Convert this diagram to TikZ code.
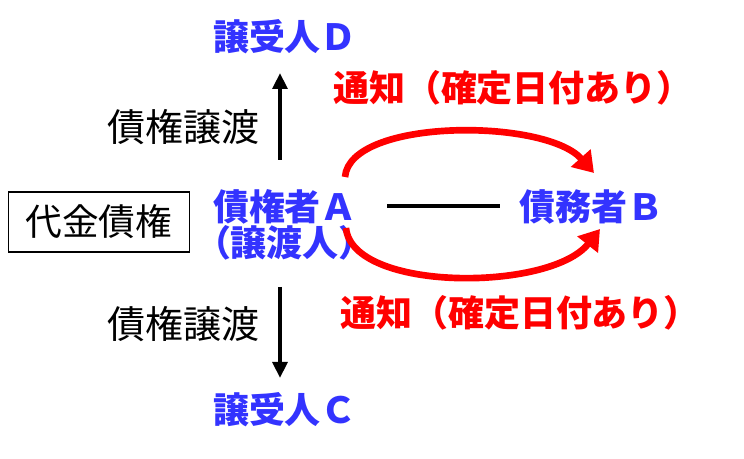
\documentclass[tikz,border=0pt]{standalone}
\usepackage{fontspec}
\setmainfont{Noto Sans CJK JP}
\usetikzlibrary{arrows.meta}
\definecolor{blue_party}{RGB}{51,51,255}

\begin{document}
\begin{tikzpicture}[
    x=0.75pt, y=-0.75pt,
    party/.style={text=blue_party, font=\fontsize{27}{30}\selectfont\bfseries,
                  inner sep=0pt, align=center},
    notice/.style={text=red, font=\fontsize{27}{30}\selectfont\bfseries, inner sep=0pt},
    transfer/.style={font=\fontsize{28.5}{30}\selectfont, inner sep=0pt},
    claim/.style={rectangle, draw, line width=1.1pt, minimum width=136pt,
                  minimum height=45pt, font=\fontsize{27.5}{30}\selectfont},
    noticearrow/.style={-{Triangle[length=15pt,width=19pt]}, red, line width=5pt},
    transarrow/.style={-{Triangle[length=12pt,width=11pt]}, line width=3.2pt}
]
    \useasboundingbox (0,0) rectangle (744,459);

    % parties
    \node[party] (assigneeD) at (285, 37)  {譲受人Ｄ};
    \node[party] (creditorA) at (285, 207) {債権者Ａ};
    \node[party] (assignor)  at (285, 243) {\kern-0.5em（譲渡人）\kern-0.5em};
    \node[party] (debtorB)   at (591, 207) {債務者Ｂ};
    \node[party] (assigneeC) at (285, 410) {譲受人Ｃ};

    % claim box
    \node[claim] (claim) at (99, 222) {代金債権};

    % transfer labels
    \node[transfer] (transUp)   at (184, 127) {債権譲渡};
    \node[transfer] (transDown) at (184, 324) {債権譲渡};

    % notice labels
    \node[notice] (noticeUp)   at (513, 88)  {通知（確定日付あり）};
    \node[notice] (noticeDown) at (520, 313) {通知（確定日付あり）};

    % arrow end points
    \coordinate (upFrom)     at (280, 160);
    \coordinate (upTo)       at (280, 73);
    \coordinate (downFrom)   at (280, 287);
    \coordinate (downTo)     at (280, 378);
    \coordinate (lineFrom)   at (387, 206);
    \coordinate (lineTo)     at (500, 206);
    \coordinate (noticeAUp)  at (345, 177);
    \coordinate (noticeBUp)  at (594, 173);
    \coordinate (noticeADn)  at (346, 228);
    \coordinate (noticeBDn)  at (600, 229);

    % assignments A -> D, A -> C
    \draw[transarrow] (upFrom) -- (upTo);
    \draw[transarrow] (downFrom) -- (downTo);

    % relation A -- B
    \draw[line width=3.2pt] (lineFrom) -- (lineTo);

    % notices A -> B
    \draw[noticearrow] (noticeAUp) .. controls (350, 118) and (545, 118) .. (noticeBUp);
    \draw[noticearrow] (noticeADn) .. controls (352, 292) and (550, 292) .. (noticeBDn);

\end{tikzpicture}
\end{document}
